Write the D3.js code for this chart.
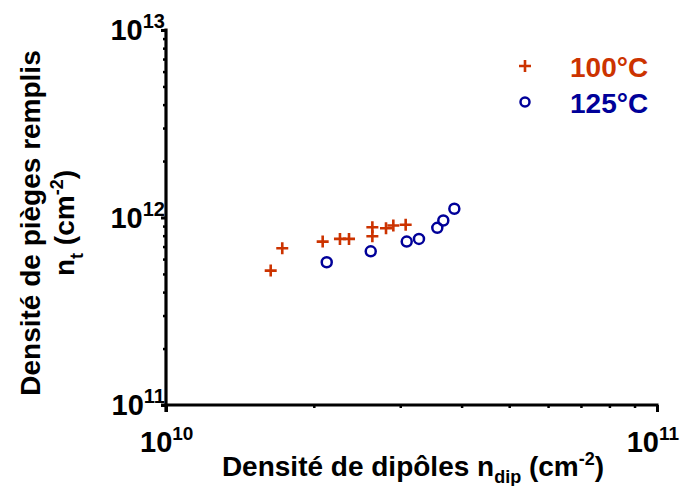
<!DOCTYPE html>
<html><head><meta charset="utf-8">
<script src="https://cdn.jsdelivr.net/npm/d3@7"></script>
<style>
html,body{margin:0;padding:0;background:#fff;}
text{font-family:"Liberation Sans",Arial,sans-serif;font-weight:bold;}
</style></head>
<body>
<svg id="chart" width="681" height="486"></svg>
<script>
// Data
const series100x = [1.634e10, 1.725e10, 2.085e10, 2.261e10, 2.359e10, 2.632e10, 2.632e10, 2.806e10, 2.904e10, 3.077e10];
const series100y = [5.21e11, 6.85e11, 7.44e11, 7.69e11, 7.69e11, 8.87e11, 7.94e11, 8.77e11, 9.06e11, 9.14e11];
const series125x = [2.125e10, 2.612e10, 3.092e10, 3.275e10, 3.569e10, 3.671e10, 3.866e10];
const series125y = [5.77e11, 6.60e11, 7.44e11, 7.69e11, 8.81e11, 9.64e11, 1.113e12];
const seriesNames = ["100°C", "125°C"];
const seriesColors = ["#cc3300", "#000099"];
const xMajorTicks = [1e10, 1e11];
const yMajorTicks = [1e11, 1e12, 1e13];

const svg = d3.select("#chart");
const x = d3.scaleLog().domain([1e10, 1e11]).range([166, 657]);
const y = d3.scaleLog().domain([1e11, 1e13]).range([405, 30]);

const xMinor = [];
for (let d = 2; d <= 9; d++) xMinor.push(d * 1e10);
const yMinor = [];
[1e11, 1e12].forEach(b => { for (let d = 2; d <= 9; d++) yMinor.push(d * b); });

// Y axis
const yAxisG = svg.append("g").attr("transform", "translate(166,0)");
yAxisG.call(d3.axisLeft(y).tickValues(yMinor).tickSize(3).tickFormat(""));
yAxisG.selectAll(".tick line").attr("stroke-width", 2.5);
yAxisG.select(".domain").remove();
const yMajG = svg.append("g").attr("transform", "translate(166,0)");
yMajG.call(d3.axisLeft(y).tickValues(yMajorTicks).tickSize(5).tickSizeOuter(0).tickFormat(""));
yMajG.selectAll(".tick line").attr("stroke-width", 3);
yMajG.select(".domain").remove();
svg.append("line").attr("x1", 166).attr("x2", 166).attr("y1", y(1e13) - 1.5).attr("y2", 412)
  .attr("stroke", "#000").attr("stroke-width", 3.2);

// X axis
const xAxisG = svg.append("g").attr("transform", "translate(0,405)");
xAxisG.call(d3.axisBottom(x).tickValues(xMinor).tickSize(3).tickFormat(""));
xAxisG.selectAll(".tick line").attr("stroke-width", 2.5);
xAxisG.select(".domain").remove();
const xMajG = svg.append("g").attr("transform", "translate(0,405)");
xMajG.call(d3.axisBottom(x).tickValues(xMajorTicks).tickSize(7).tickFormat(""));
xMajG.selectAll(".tick line").attr("stroke-width", 3);
xMajG.select(".domain").remove();
svg.append("line").attr("x1", 161).attr("x2", 658.5).attr("y1", 405).attr("y2", 405)
  .attr("stroke", "#000").attr("stroke-width", 3.2);

// Tick labels
function pow10Label(g, v, xp, yp, anchor, supSize) {
  const t = g.append("text").attr("x", xp).attr("y", yp).attr("text-anchor", anchor)
    .attr("font-size", 29).attr("fill", "#000");
  t.append("tspan").text("10");
  t.append("tspan").attr("dy", -12).attr("font-size", supSize).text(String(Math.round(Math.log10(v))));
  return t;
}
yMajorTicks.forEach(v => pow10Label(svg, v, 165, y(v) + 10, "end", 20));
xMajorTicks.forEach(v => {
  const t = pow10Label(svg, v, x(v) - 26, 452, "start", 19);
  const w = t.node().getComputedTextLength();
  if (x(v) - 26 + w > 679) t.attr("x", 679 - w);
});

// Axis titles
const xt = svg.append("text").attr("x", 413).attr("y", 476).attr("text-anchor", "middle")
  .attr("font-size", 28).attr("fill", "#000");
xt.append("tspan").text("Densité de dipôles n");
xt.append("tspan").attr("dy", 7).attr("font-size", 18).text("dip");
xt.append("tspan").attr("dy", -7).text(" (cm");
xt.append("tspan").attr("dy", -11).attr("font-size", 18).text("-2");
xt.append("tspan").attr("dy", 11).text(")");

const yt = svg.append("g").attr("transform", "translate(40,223) rotate(-90)");
yt.append("text").attr("x", 0).attr("y", 0).attr("text-anchor", "middle")
  .attr("font-size", 28).attr("fill", "#000").text("Densité de pièges remplis");
const yt2 = yt.append("text").attr("x", 0).attr("y", 34).attr("text-anchor", "middle")
  .attr("font-size", 28).attr("fill", "#000");
yt2.append("tspan").text("n");
yt2.append("tspan").attr("dy", 9).attr("font-size", 18).text("t");
yt2.append("tspan").attr("dy", -9).text(" (cm");
yt2.append("tspan").attr("dy", -11).attr("font-size", 18).text("-2");
yt2.append("tspan").attr("dy", 11).text(")");

// Markers
const d100 = series100x.map((v, i) => ({x: v, y: series100y[i]}));
const d125 = series125x.map((v, i) => ({x: v, y: series125y[i]}));
function cross(sel, cx, cy, color) {
  sel.append("path").attr("d", `M${cx - 6},${cy}H${cx + 6}M${cx},${cy - 6}V${cy + 6}`)
    .attr("stroke", color).attr("stroke-width", 2.6).attr("fill", "none");
}
const m1 = svg.append("g");
d100.forEach(d => cross(m1, x(d.x), y(d.y), seriesColors[0]));
svg.append("g").selectAll("circle").data(d125).join("circle")
  .attr("cx", d => x(d.x)).attr("cy", d => y(d.y)).attr("r", 5)
  .attr("fill", "none").attr("stroke", seriesColors[1]).attr("stroke-width", 2.5);

// Legend
cross(svg, 525, 66, seriesColors[0]);
svg.append("circle").attr("cx", 525).attr("cy", 102).attr("r", 4.5)
  .attr("fill", "none").attr("stroke", seriesColors[1]).attr("stroke-width", 2.5);
seriesNames.forEach((n, i) => {
  svg.append("text").attr("x", 570).attr("y", 77 + i * 36).attr("font-size", 28)
    .attr("fill", seriesColors[i]).text(n);
});
</script>
</body></html>
